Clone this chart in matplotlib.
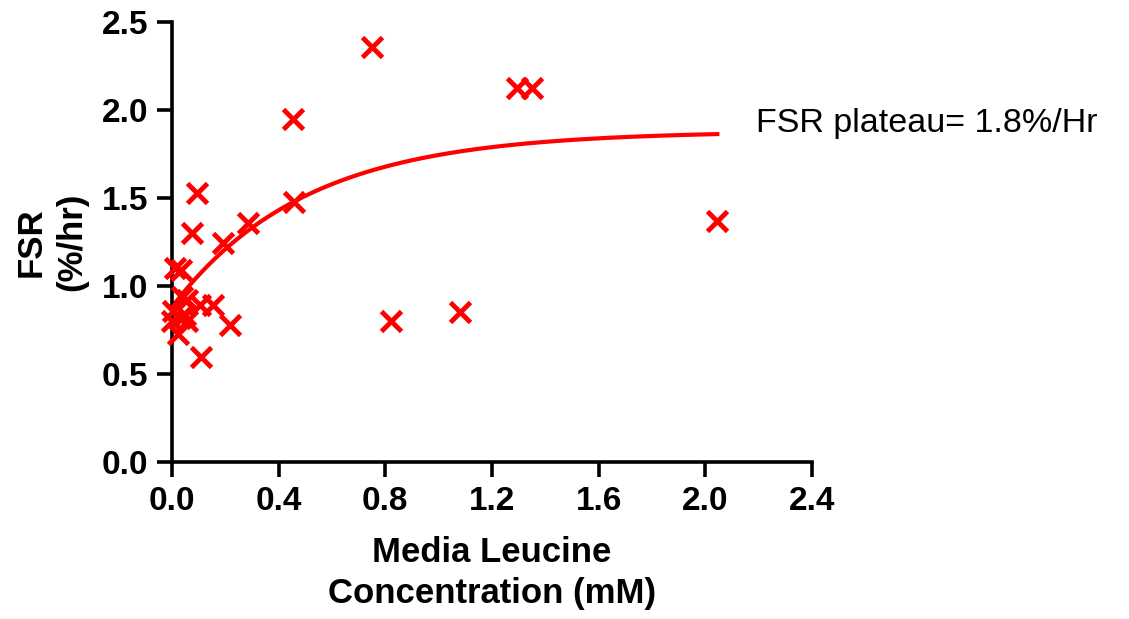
import numpy as np
import matplotlib.pyplot as plt

plt.rcParams['font.family'] = ['Liberation Sans', 'DejaVu Sans']

# leucine concentration (mM) and FSR (%/hr)
leucine = [0.0, 0.005, 0.01, 0.035, 0.024, 0.03, 0.036, 0.049, 0.055, 0.055,
           0.074, 0.093, 0.105, 0.11, 0.155, 0.19, 0.217, 0.286, 0.454, 0.457,
           0.749, 0.82, 1.08, 1.295, 1.349, 2.045]
fsr = [0.80, 0.86, 1.10, 1.09, 0.73, 0.82, 0.94, 0.835, 0.92, 0.80,
       1.30, 1.53, 0.89, 0.595, 0.89, 1.243, 0.78, 1.356, 1.95, 1.479,
       2.356, 0.803, 0.852, 2.127, 2.127, 1.369]

# one-phase association fit parameters
y0 = 0.88
plateau = 1.88
k = 2.0
fit_range = [0.0, 2.045]

fig = plt.figure(figsize=(11.29, 6.19), dpi=100)
ax = fig.add_axes([0.1523, 0.2536, 0.5669, 0.7108])

xf = np.linspace(fit_range[0], fit_range[1], 300)
yf = y0 + (plateau - y0) * (1 - np.exp(-k * xf))
ax.plot(xf, yf, color='#ff0000', lw=3.0, clip_on=False, zorder=2)
ax.plot(leucine, fsr, linestyle='none', marker='x', markersize=14,
        markeredgewidth=3.5, color='#ff0000', clip_on=False, zorder=3)

ax.set_xlim(0, 2.4)
ax.set_ylim(0, 2.5)
ax.set_xticks(np.arange(0, 2.41, 0.4))
ax.set_yticks(np.arange(0, 2.51, 0.5))
ax.set_xticklabels(['%.1f' % v for v in np.arange(0, 2.41, 0.4)])
ax.set_yticklabels(['%.1f' % v for v in np.arange(0, 2.51, 0.5)])

for s in ['top', 'right']:
    ax.spines[s].set_visible(False)
for s in ['left', 'bottom']:
    ax.spines[s].set_linewidth(2.6)
ax.tick_params(width=2.6, length=11, labelsize=24, pad=6)
for lab in ax.get_xticklabels() + ax.get_yticklabels():
    lab.set_fontweight('bold')

ax.set_xlabel('Media Leucine\nConcentration (mM)', fontsize=25, fontweight='bold',
              labelpad=14, linespacing=1.3)
ax.set_ylabel('FSR\n(%/hr)', fontsize=25, fontweight='bold', labelpad=10,
              linespacing=1.3)

ax.text(2.19, 1.926, 'FSR plateau= 1.8%/Hr', fontsize=24.5, ha='left', va='center',
        clip_on=False)

plt.savefig('out.png', dpi=100)
